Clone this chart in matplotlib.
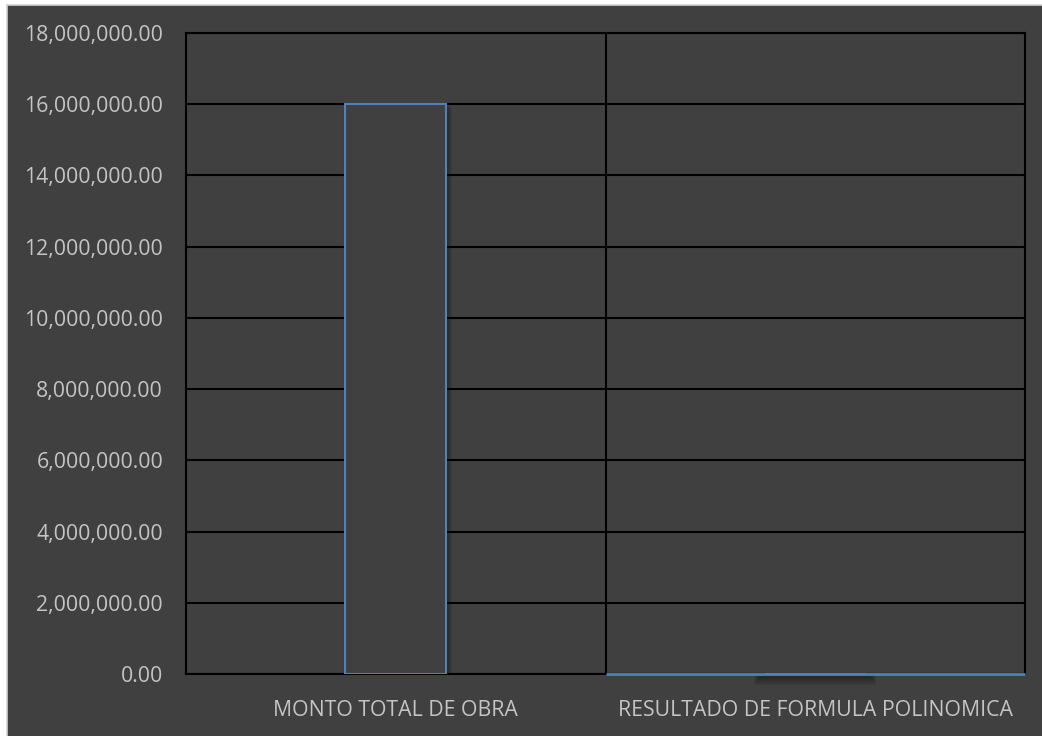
import matplotlib
matplotlib.use("Agg")
import matplotlib.pyplot as plt
from matplotlib.patches import Rectangle
from matplotlib.lines import Line2D
from matplotlib.ticker import FuncFormatter

categories = ["MONTO TOTAL DE OBRA", "RESULTADO DE FORMULA POLINOMICA"]
values = [16000000, 0]
y_ticks = [0, 2000000, 4000000, 6000000, 8000000, 10000000, 12000000, 14000000, 16000000, 18000000]

plt.rcParams["font.family"] = ["Open Sans", "DejaVu Sans"]

W, H = 1042, 736
fig = plt.figure(figsize=(W / 100, H / 100), dpi=100, facecolor="white")
fig.patches.append(Rectangle((7 / W, 0), 1 - 7 / W, 1 - 5 / H, transform=fig.transFigure,
                             facecolor="#404040", edgecolor="none", zorder=-10))
fig.lines.append(Line2D([6.5 / W, 6.5 / W], [0, 1 - 4.5 / H], transform=fig.transFigure,
                        color="#d0d0d0", linewidth=1.2, zorder=-9))
fig.lines.append(Line2D([6.5 / W, 1], [1 - 4.5 / H, 1 - 4.5 / H], transform=fig.transFigure,
                        color="#d0d0d0", linewidth=1.2, zorder=-9))

left, right, top, bottom = 186, 1025, 33, 674
ax = fig.add_axes([left / W, 1 - bottom / H, (right - left) / W, (bottom - top) / H])
ax.set_facecolor("#404040")
text_color = "#c4c4c4"

x = list(range(len(categories)))
bar_w = 0.24
# soft shadows
for xi, v in zip(x, values):
    if v > 0:
        for k in range(6, 0, -1):
            ax.bar(xi + 0.004, v + 60000 * k / 6, width=bar_w + 0.02 * k / 6, bottom=-180000 * k / 6,
                   color="black", alpha=0.05, zorder=1, linewidth=0)
    else:
        for k in range(6, 0, -1):
            ax.bar(xi, 180000 * k / 6 + 60000, width=0.27 + 0.02 * k / 6, bottom=-120000 - 180000 * k / 6,
                   color="black", alpha=0.06, zorder=1, linewidth=0, clip_on=False)
ax.bar(x, values, width=bar_w, color="#404040", edgecolor="#4f81bd", linewidth=1.5, zorder=3)
# blue baseline for second category
ax.plot([0.5, 1.5], [0, 0], color="#4f81bd", linewidth=2, zorder=4, solid_capstyle="butt", clip_on=False)

ax.set_xlim(-0.5, 1.5)
ax.set_ylim(0, 18000000)
ax.set_yticks(y_ticks)
ax.yaxis.set_major_formatter(FuncFormatter(lambda v, p: f"{v:,.2f}"))
ax.set_xticks(x)
ax.set_xticklabels(categories)
ax.tick_params(axis="both", length=0, colors=text_color, labelsize=15.3)
ax.tick_params(axis="y", pad=16.5)
ax.tick_params(axis="x", pad=19)
ax.yaxis.grid(True, color="black", linewidth=1.5, zorder=0)
ax.set_axisbelow(True)
ax.axvline(0.5, color="black", linewidth=1.5, zorder=2)
for s in ax.spines.values():
    s.set_color("black")
    s.set_linewidth(1.5)
ax.spines["bottom"].set_zorder(2)

fig.savefig("out.png", dpi=100, facecolor=fig.get_facecolor())
